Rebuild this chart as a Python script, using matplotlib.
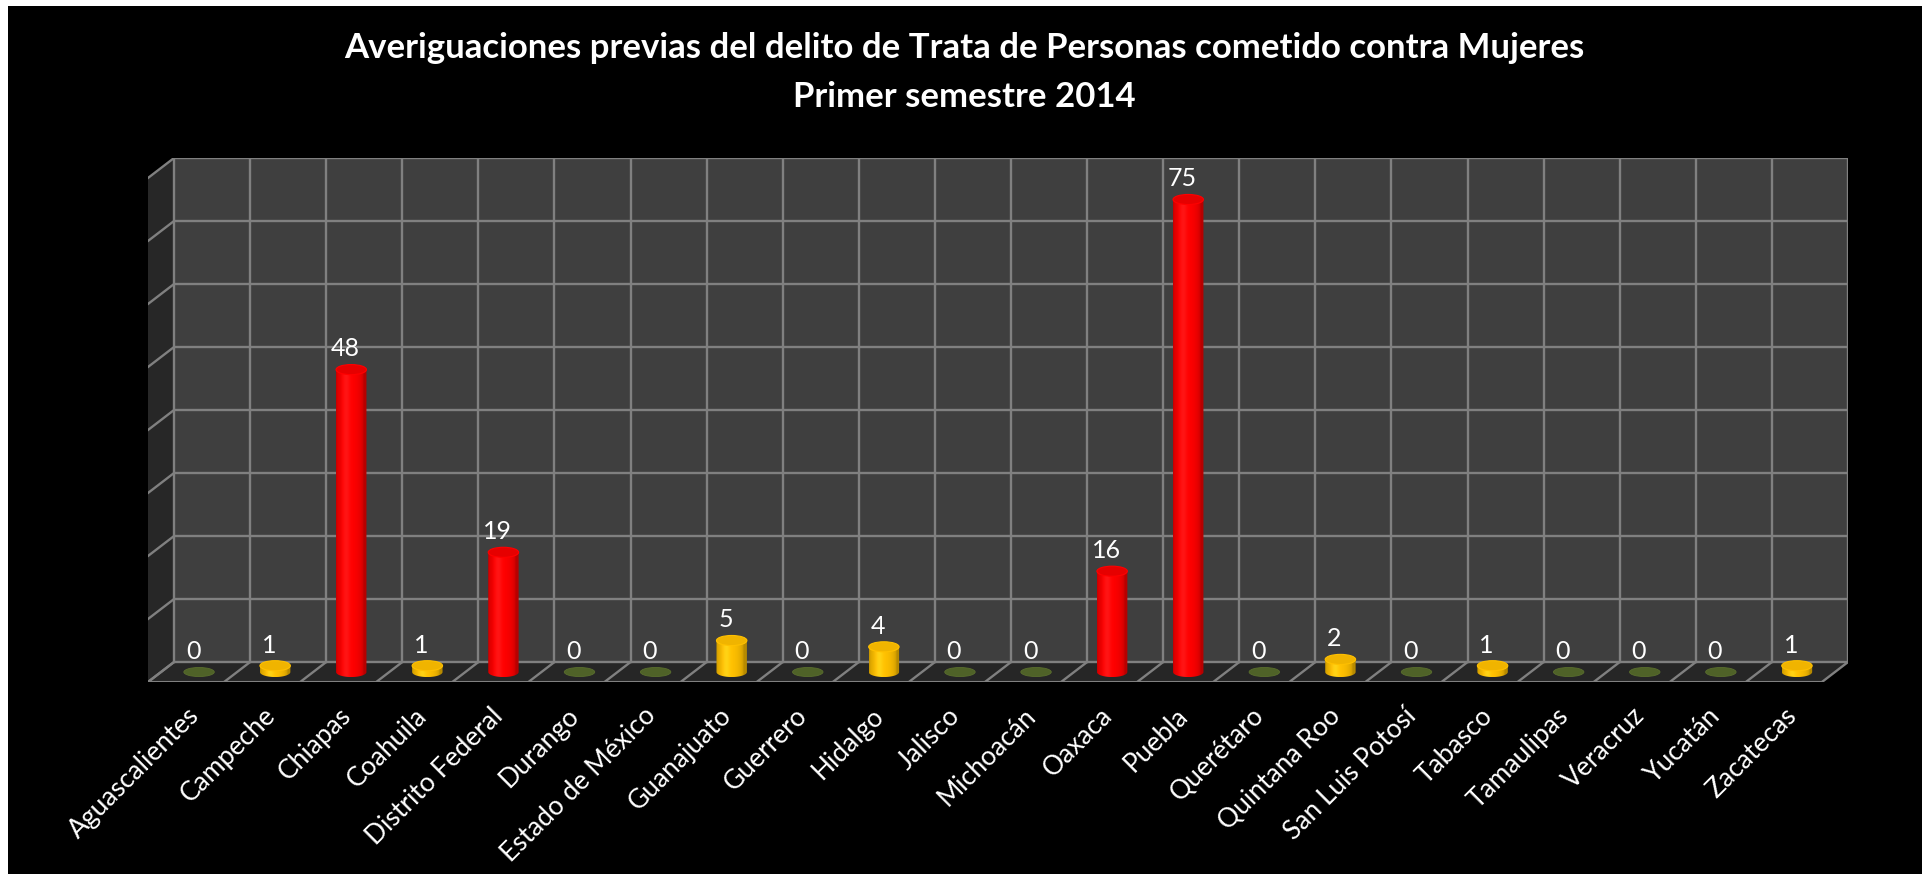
import numpy as np
import matplotlib
matplotlib.use("Agg")
import matplotlib.pyplot as plt
from matplotlib.patches import Polygon, Ellipse, Rectangle

plt.rcParams['font.family'] = ['Lato', 'DejaVu Sans']

# datos
estados = ["Aguascalientes", "Campeche", "Chiapas", "Coahuila", "Distrito Federal",
           "Durango", "Estado de México", "Guanajuato", "Guerrero", "Hidalgo",
           "Jalisco", "Michoacán", "Oaxaca", "Puebla", "Querétaro", "Quintana Roo",
           "San Luis Potosí", "Tabasco", "Tamaulipas", "Veracruz", "Yucatán", "Zacatecas"]
valores = [0, 1, 48, 1, 19, 0, 0, 5, 0, 4, 0, 0, 16, 75, 0, 2, 0, 1, 0, 0, 0, 1]
y_ticks = [0, 10, 20, 30, 40, 50, 60, 70, 80]

titulo_1 = "Averiguaciones previas del delito de Trata de Personas cometido contra Mujeres"
titulo_2 = "Primer semestre 2014"

# "profundidad" del grafico 3d (en unidades de datos)
px, py = -0.342, -3.17
ancho = 0.40
alto_elipse = 1.6
gris = "#808080"

W, H = 1927, 874
fig = plt.figure(figsize=(W / 100, H / 100), dpi=100, facecolor="white")
fig.add_artist(Rectangle((8 / W, 0), (1922 - 8) / W, (874 - 6) / H,
                         transform=fig.transFigure, facecolor="black", edgecolor="none", zorder=0))

ax = fig.add_axes([148 / W, (H - 682) / H, 1700 / W, 524 / H])
ax.set_facecolor("none")
ax.axis("off")

n = len(estados)
x0, x1 = -0.5, n - 0.5
ymax = y_ticks[-1]
xlim = (x0 + px, x1)
ylim = (py, ymax)

# paredes y piso
ax.add_patch(Polygon([(x0, 0), (x1, 0), (x1, ymax), (x0, ymax)], closed=True,
                     facecolor="#3f3f3f", edgecolor="none", zorder=1))
ax.add_patch(Polygon([(x0, 0), (x0, ymax), (x0 + px, ymax + py), (x0 + px, py)], closed=True,
                     facecolor="#272727", edgecolor="none", zorder=1))
ax.add_patch(Polygon([(x0, 0), (x1, 0), (x1 + px, py), (x0 + px, py)], closed=True,
                     facecolor="#262626", edgecolor="none", zorder=1))

for v in y_ticks:
    ax.plot([x0, x1], [v, v], color=gris, lw=1.7, zorder=2, solid_capstyle="butt")
    ax.plot([x0, x0 + px], [v, v + py], color=gris, lw=1.7, zorder=2)
for k in range(n + 1):
    ax.plot([x0 + k, x0 + k], [0, ymax], color=gris, lw=1.7, zorder=2)
    ax.plot([x0 + k, x0 + k + px], [0, py], color=gris, lw=1.7, zorder=2)
ax.plot([x0 + px, x1 + px], [py, py], color=gris, lw=2.2, zorder=2)


def degradado(base):
    t = np.linspace(0, 1, 200)
    f = 0.72 + 0.28 * np.sin(np.pi * np.clip(t * 1.12, 0, 1)) ** 0.4
    brillo = 0.08 * np.exp(-((t - 0.33) / 0.12) ** 2)
    rgb = np.array(matplotlib.colors.to_rgb(base))
    img = rgb[None, :] * f[:, None] + brillo[:, None]
    return np.clip(img, 0, 1)[None, :, :]


def cilindro(x, v, base, tapa):
    y0 = py / 2
    y1 = y0 + v
    a, b = ancho / 2, alto_elipse / 2
    ang = np.linspace(np.pi, 2 * np.pi, 60)
    pts = list(zip(x + a * np.cos(ang), y0 + b * np.sin(ang)))
    pts += [(x + a, y1), (x - a, y1)]
    cuerpo = Polygon(pts, closed=True, transform=ax.transData, facecolor="none", edgecolor="none")
    ax.add_patch(cuerpo)
    im = ax.imshow(degradado(base), extent=[x - a, x + a, y0 - b, y1 + b], aspect="auto",
                   origin="lower", zorder=3, interpolation="bilinear")
    im.set_clip_path(cuerpo)
    ax.add_patch(Ellipse((x, y1), ancho, alto_elipse, facecolor=tapa, edgecolor=base,
                         lw=0.8, zorder=4))


for i, v in enumerate(valores):
    xc = i + px / 2
    if v == 0:
        ax.add_patch(Ellipse((xc, py / 2), ancho, alto_elipse * 0.9, facecolor="#4f6228",
                             edgecolor="#5a6e2e", lw=0.6, zorder=3))
    elif v >= 10:
        cilindro(xc, v, "#ff0000", "#e60000")
    else:
        cilindro(xc, v, "#ffc000", "#f0b400")
    ax.annotate(str(v), xy=(xc, py / 2 + v), xytext=(-4.3, 9.5), textcoords="offset points",
                ha="center", va="baseline", color="white", fontsize=18, zorder=5)

# etiquetas del eje x
for i, e in enumerate(estados):
    ax.annotate(e, xy=(i + px, py), xytext=(6.5, -21.5), textcoords="offset points",
                ha="right", va="center", rotation=45, rotation_mode="anchor",
                color="white", fontsize=19, annotation_clip=False)

ax.set_xlim(*xlim)
ax.set_ylim(*ylim)

fig.text(964 / W, 1 - 58 / H, titulo_1, ha="center", va="baseline", color="white",
         fontsize=25, fontweight="bold")
fig.text(964 / W, 1 - 107 / H, titulo_2, ha="center", va="baseline", color="white",
         fontsize=25, fontweight="bold")

fig.savefig("out.png", dpi=100, facecolor="white")
